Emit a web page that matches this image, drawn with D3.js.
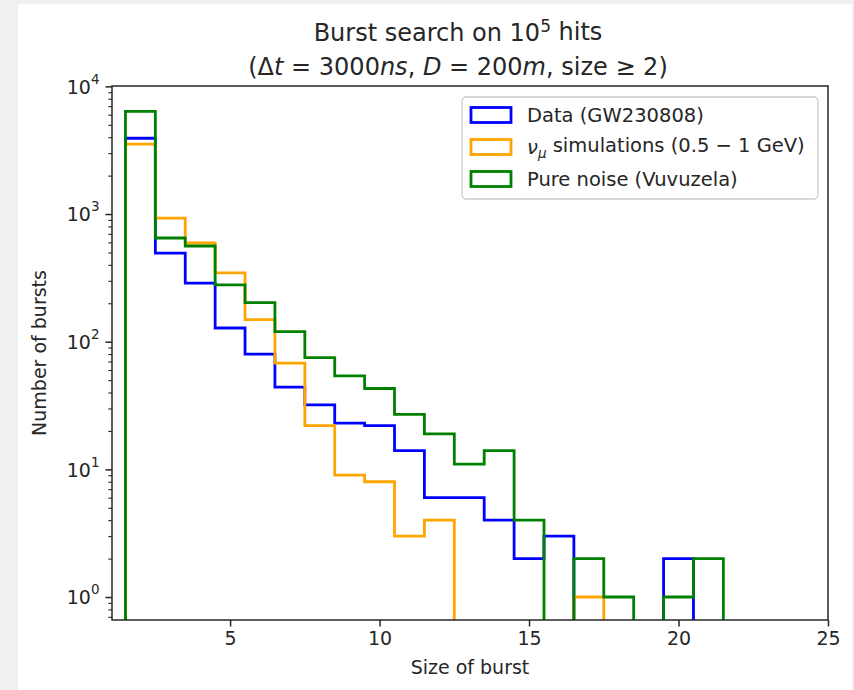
<!DOCTYPE html>
<html>
<head>
<meta charset="utf-8">
<script src="https://cdn.jsdelivr.net/npm/d3@7"></script>
<style>
  html, body { margin: 0; padding: 0; background: #f0f0f0; }
  svg { display: block; }
  text { font-family: "DejaVu Sans", sans-serif; fill: #262626; }
</style>
</head>
<body>
<script>
// ---- data ----
const burstSizes = [2, 3, 4, 5, 6, 7, 8, 9, 10, 11, 12, 13, 14, 15, 16, 17, 18, 19, 20, 21];
const dataCounts  = [3925, 495, 288, 128, 80, 44, 32, 23, 22, 14, 6, 6, 4, 2, 3, 0, 0, 0, 2, 0];
const simCounts   = [3524, 930, 593, 346, 149, 68, 22, 9, 8, 3, 4, 0, 0, 0, 0, 1, 0, 0, 0, 0];
const noiseCounts = [6380, 649, 562, 279, 202, 120, 75, 54, 43, 27, 19, 11, 14, 4, 0, 2, 1, 0, 1, 2];
const seriesNames = ["Data (GW230808)", "nu_mu simulations", "Pure noise (Vuvuzela)"];
const seriesColors = ["#0000ff", "#ffa500", "#008000"];
const xTickValues = [5, 10, 15, 20, 25];
const yMajorTicks = [1, 10, 100, 1000, 10000];
const yTickExponents = ["0", "1", "2", "3", "4"];

const W = 854, H = 690;
const margin = { left: 112, right: 26, top: 86, bottom: 70 };
const plotW = W - margin.left - margin.right;
const plotH = H - margin.top - margin.bottom;

const svg = d3.select("body").append("svg").attr("width", W).attr("height", H);
// figure background
svg.append("rect").attr("x", 18).attr("y", 4).attr("width", 834).attr("height", H - 4).attr("fill", "#ffffff");

const x = d3.scaleLinear().domain([1.05, 25]).range([0, plotW]);
const y = d3.scaleLog().domain([Math.pow(10, -0.18), Math.pow(10, 4.003)]).range([plotH, 0]);

const g = svg.append("g").attr("transform", `translate(${margin.left},${margin.top})`);

svg.append("defs").append("clipPath").attr("id", "clip")
  .append("rect").attr("x", 0).attr("y", -5).attr("width", plotW).attr("height", plotH + 5);

// step outline builder
function stepPoints(counts) {
  const pts = [];
  const floorVal = 1e-3;
  const first = burstSizes[0] - 0.5;
  pts.push([first, floorVal]);
  counts.forEach((c, i) => {
    const v = c > 0 ? c : floorVal;
    const lo = burstSizes[i] - 0.5, hi = burstSizes[i] + 0.5;
    pts.push([lo, v]);
    pts.push([hi, v]);
  });
  pts.push([burstSizes[burstSizes.length - 1] + 0.5, floorVal]);
  return pts;
}
const yClamp = v => Math.min(y(v), plotH + 20);
const line = d3.line().x(d => x(d[0])).y(d => yClamp(d[1]));

const allCounts = [dataCounts, simCounts, noiseCounts];
const plot = g.append("g").attr("clip-path", "url(#clip)");
allCounts.forEach((counts, i) => {
  plot.append("path")
    .attr("d", line(stepPoints(counts)))
    .attr("fill", "none")
    .attr("stroke", seriesColors[i])
    .attr("stroke-width", 2.8)
    .attr("stroke-linejoin", "miter")
    .attr("stroke-linecap", "butt");
});

// axes frame
const spineColor = "#262626";
g.append("rect").attr("x", 0).attr("y", 0).attr("width", plotW).attr("height", plotH)
  .attr("fill", "none").attr("stroke", spineColor).attr("stroke-width", 1.5);

// x axis
const xAxis = d3.axisBottom(x).tickValues(xTickValues).tickSize(6.5).tickPadding(5).tickFormat(d3.format("d"));
const xg = g.append("g").attr("transform", `translate(0,${plotH})`).call(xAxis);
xg.select(".domain").remove();
xg.selectAll("line").attr("stroke", spineColor).attr("stroke-width", 1.5);
xg.selectAll("text").attr("font-size", 19).attr("font-family", "DejaVu Sans").attr("fill", "#262626");

// y axis major
const yAxis = d3.axisLeft(y).tickValues(yMajorTicks).tickSize(6.5).tickPadding(6).tickFormat(() => "");
const yg = g.append("g").call(yAxis);
yg.select(".domain").remove();
yg.selectAll("line").attr("stroke", spineColor).attr("stroke-width", 1.5);
yg.selectAll(".tick text").each(function(d, i) {
  const t = d3.select(this).attr("font-size", 19).attr("font-family", "DejaVu Sans").attr("fill", "#262626").attr("dy", "0.36em");
  t.text(null);
  t.append("tspan").text("10");
  t.append("tspan").attr("font-size", 13.5).attr("dy", "-0.75em").text(yTickExponents[yMajorTicks.indexOf(d)]);
});

// y axis minor
const [d0, d1] = y.domain();
const minor = [];
for (let e = -1; e <= 4; e++) {
  for (let k = 2; k <= 9; k++) {
    const v = k * Math.pow(10, e);
    if (v >= d0 && v <= d1) minor.push(v);
  }
}
const yMinor = d3.axisLeft(y).tickValues(minor).tickSize(3.7).tickFormat(() => "");
const ymg = g.append("g").call(yMinor);
ymg.select(".domain").remove();
ymg.selectAll("line").attr("stroke", spineColor).attr("stroke-width", 1.1);

// axis labels
svg.append("text").attr("x", margin.left + plotW / 2).attr("y", 674)
  .attr("text-anchor", "middle").attr("font-size", 19).text("Size of burst");
svg.append("text").attr("transform", `translate(46,${margin.top + plotH / 2}) rotate(-90)`)
  .attr("text-anchor", "middle").attr("font-size", 19).text("Number of bursts");

// title
const t1 = svg.append("text").attr("x", 458).attr("y", 41).attr("text-anchor", "middle").attr("font-size", 24);
t1.append("tspan").text("Burst search on 10");
t1.append("tspan").attr("font-size", 17).attr("dy", "-0.55em").text("5");
t1.append("tspan").attr("dy", "0.35em").text(" hits");

const t2 = svg.append("text").attr("x", 458).attr("y", 75).attr("text-anchor", "middle").attr("font-size", 24);
t2.append("tspan").text("(Δ");
t2.append("tspan").attr("font-style", "italic").text("t");
t2.append("tspan").text(" = 3000");
t2.append("tspan").attr("font-style", "italic").text("ns");
t2.append("tspan").text(", ");
t2.append("tspan").attr("font-style", "italic").text("D");
t2.append("tspan").text(" = 200");
t2.append("tspan").attr("font-style", "italic").text("m");
t2.append("tspan").text(", size  ≥ 2)");

// legend
const lg = svg.append("g").attr("transform", "translate(462,97)");
lg.append("rect").attr("x", 0).attr("y", 0).attr("width", 356).attr("height", 102)
  .attr("rx", 4).attr("fill", "#ffffff").attr("fill-opacity", 0.8).attr("stroke", "#cccccc").attr("stroke-width", 1.3);
seriesNames.forEach((name, i) => {
  const cy = 18 + i * 32;
  lg.append("rect").attr("x", 9).attr("y", cy - 7.5).attr("width", 40).attr("height", 15)
    .attr("fill", "none").attr("stroke", seriesColors[i]).attr("stroke-width", 2.8);
  const tx = lg.append("text").attr("x", 65).attr("y", cy).attr("dy", "0.36em").attr("font-size", 19.5);
  if (i === 1) {
    tx.append("tspan").attr("font-style", "italic").text("ν");
    tx.append("tspan").attr("font-style", "italic").attr("font-size", 13.5).attr("dy", "0.3em").text("μ");
    tx.append("tspan").attr("dy", "-0.3em").attr("font-size", 19.5).text(" simulations (0.5 − 1 GeV)");
  } else {
    tx.text(name);
  }
});
</script>
</body>
</html>
